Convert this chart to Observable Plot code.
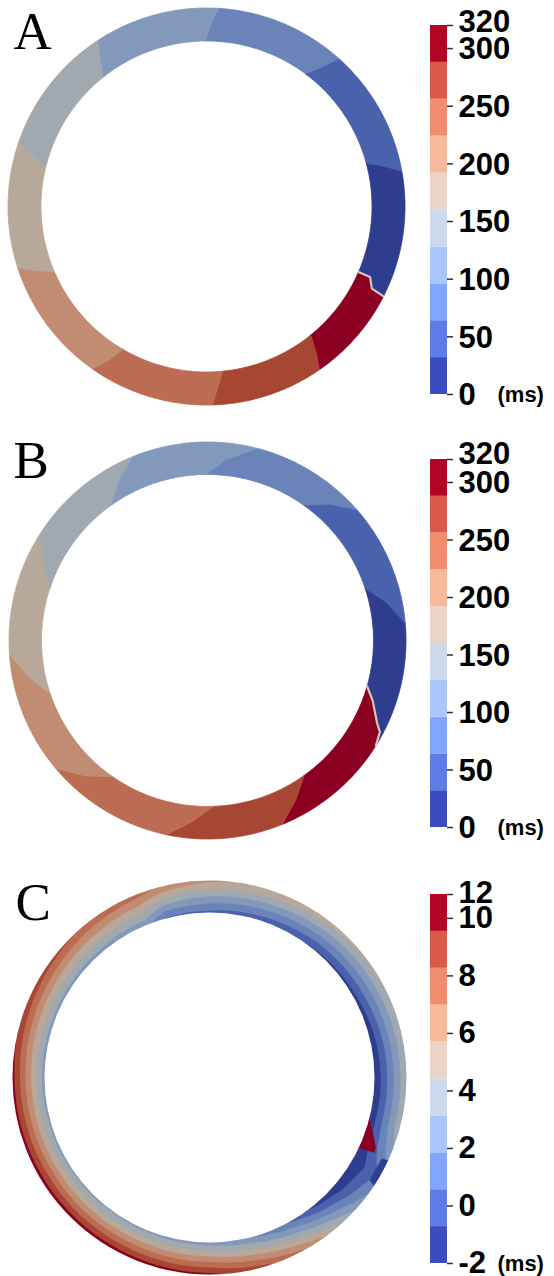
<!DOCTYPE html>
<html><head><meta charset="utf-8">
<script src="https://cdn.jsdelivr.net/npm/d3@7"></script>
<script src="https://cdn.jsdelivr.net/npm/@observablehq/plot@0.6"></script>
<style>
html,body{margin:0;padding:0;background:#fff;overflow:hidden;}
#root{position:relative;width:554px;height:1276px;}
.panel{position:absolute;left:0;width:554px;}
.panel svg{position:absolute;}
</style></head><body><div id="root"></div>
<script>
// ---------------- data ----------------
const panelLabels = ["A", "B", "C"];
const unitLabel = "(ms)";

// activation-time colour bar (panels A, B), ms
const msBandEdges = [0, 32, 64, 96, 128, 160, 192, 224, 256, 288, 320];
const msTicks = [0, 50, 100, 150, 200, 250, 300];
const msTopLabel = "320";

// panel C colour bar, ms
const cBandEdges = [-2, -0.717, 0.566, 1.849, 3.132, 4.415, 5.698, 6.981, 8.264, 9.547, 10.83];
const cTicks = [-2, 0, 2, 4, 6, 8, 10];
const cTopLabel = "12";

// panels A, B: region boundaries, [angle clockwise from top (deg), fraction across wall inner->outer]
const boundsA = [
  [[-0.3, 0], [1.3, 0.5], [3.5, 1]],
  [[37, 0], [40, 0.5], [42, 1]],
  [[75, 0], [77.5, 0.5], [80, 1]],
  [[113.3, 0], [113.3, 0.38], [116.4, 0.58], [116.9, 1]],
  [[141, 0], [143, 0.5], [145.3, 1]],
  [[174.4, 0], [176.5, 0.5], [178.3, 1]],
  [[210.3, 0], [212.5, 0.5], [215, 1]],
  [[246.7, 0], [249.5, 0.5], [252, 1]],
  [[284, 0], [286.5, 0.5], [289, 1]],
  [[321.6, 0], [324.5, 0.5], [327, 1]]
];
const boundsB = [
  [[-0.7, 0], [6, 0.5], [14.5, 1]],
  [[35.6, 0], [42, 0.5], [49, 1]],
  [[72, 0], [78, 0.5], [85.2, 1]],
  [[106, 0], [110, 0.3], [116, 0.7], [118, 0.9], [119.5, 0.93], [122, 1]],
  [[144.4, 0], [151, 0.5], [157.8, 1]],
  [[177.9, 0], [185, 0.5], [192, 1]],
  [[215, 0], [222, 0.5], [230, 1]],
  [[251.2, 0], [258.5, 0.5], [266, 1]],
  [[288.8, 0], [295.5, 0.5], [302.6, 1]],
  [[324.8, 0], [331, 0.5], [338, 1]]
];
// activation time (ms) of the region following each boundary (clockwise)
const timesA = [80, 48, 16, 304, 272, 240, 208, 176, 144, 112];
const timesB = [80, 48, 16, 304, 272, 240, 208, 176, 144, 112];

// panel C: values (ms) at the inner and outer wall vs angle
const cAngles = [0, 20, 40, 60, 80, 95, 105, 112, 120, 130, 140, 150, 165, 180, 210, 240, 270, 300, 320, 338, 345, 352, 360];
const cInner  = [0.2, -0.3, -0.9, -1.2, -1.8, -1.95, -1.95, -1.95, -1.95, -1.95, -1.2, 0.3, 1.8, 2.5, 2.8, 2.8, 2.6, 2.6, 2.5, 2.3, 0.4, 0.3, 0.2];
const cOuter  = [6.0, 5.6, 5.0, 4.6, 4.4, 4.3, 4.2, 3.0, 0.8, 2.5, 5.0, 7.0, 8.8, 9.9, 10.2, 10.2, 10.0, 9.0, 8.2, 7.6, 7.0, 6.5, 6.0];
// panel C local patches: [angle, wall fraction], value (ms)
const cPatches = [
  {value: 10.2, pts: [[104.5, -0.1], [104.5, 0], [110, 0.3], [113, 0.48], [114.5, 0.5], [115.2, 0], [115.2, -0.1]]},
  {value: -1.5, pts: [[115.2, 0.8], [114.8, 1.1], [123.8, 1.1], [122.6, 0.8]]}
];

// ---------------- styles ----------------
const legendColors = ["#3b4cc0","#5d7ce6","#82a6fb","#aac7fd","#cdd9ec","#ead4c8","#f7b89c","#f18d6f","#da5a49","#b40426"];
const ringColors = ["#2f3d8e","#4a62ac","#6a84ba","#8299bb","#a0a8b0","#b8a89a","#c28c72","#bc6c52","#a84634","#8b0020"];
const sans = "'Liberation Sans', Arial, Helvetica, sans-serif";
const serif = "'Liberation Serif', 'Times New Roman', serif";

// ring svg starts "shift" px above the panel top so that the letter is not clipped
const panels = [
  {top: 0, h: 434, shift: 0, cx: 206, cy: 206, rIn: 165.5, rOut: 198.5, labelX: 13, labelBase: 48, barTop: 25, barBottom: 394, topDy: -3.5},
  {top: 434, h: 434, shift: 14, cx: 207, cy: 206, rIn: 166, rOut: 198.5, labelX: 13, labelBase: 43, barTop: 25, barBottom: 393, topDy: -5},
  {top: 868, h: 408, shift: 14, cx: 209, cy: 209, rIn: 165, rOut: 197, labelX: 15, labelBase: 51, barTop: 26, barBottom: 395, topDy: -1}
];

// ---------------- helpers ----------------
function polar(theta, rho, p) {
  const r = p.rIn + rho * (p.rOut - p.rIn);
  const t = theta * Math.PI / 180;
  return [r * Math.sin(t), r * Math.cos(t)];
}
function ringRegions(bounds, times, p) {
  const rows = [];
  const n = bounds.length;
  for (let i = 0; i < n; i++) {
    const L = bounds[i];
    const shift = i === n - 1 ? 360 : 0;
    const R = bounds[(i + 1) % n].map(([t, q]) => [t + shift, q]);
    const pts = L.slice();
    const lo = L[L.length - 1][0], ro = R[R.length - 1][0];
    for (let t = Math.floor(lo) + 1; t < ro; t++) pts.push([t, 1]);
    R.slice().reverse().forEach(d => pts.push(d));
    const li = L[0][0], ri = R[0][0];
    for (let t = Math.ceil(ri) - 1; t > li; t--) pts.push([t, 0]);
    pts.forEach(([t, q]) => { const [x, y] = polar(t, q, p); rows.push({seg: i, value: times[i], x, y}); });
  }
  return rows;
}
function lineRows(pts, p) {
  return pts.map(([t, q]) => { const [x, y] = polar(t, q, p); return {x, y}; });
}
function cField(p) {
  return (x, y) => {
    const r = Math.hypot(x, y);
    let rho = (r - p.rIn) / (p.rOut - p.rIn);
    rho = Math.max(0, Math.min(1, rho));
    let t = Math.atan2(x, y) * 180 / Math.PI;
    if (t < 0) t += 360;
    let i = 0;
    while (i < cAngles.length - 2 && t > cAngles[i + 1]) i++;
    const f = (t - cAngles[i]) / (cAngles[i + 1] - cAngles[i]);
    const vi = cInner[i] + f * (cInner[i + 1] - cInner[i]);
    const vo = cOuter[i] + f * (cOuter[i + 1] - cOuter[i]);
    return vi + rho * (vo - vi);
  };
}

function ringPlot(p, label, bodyMarks, edges) {
  const W = 420, H = p.h + p.shift, cy = p.cy + p.shift;
  const labelMark = Plot.text([label], {
    x: -p.cx + p.labelX, y: cy - (p.labelBase + p.shift), text: d => d,
    textAnchor: "start", lineAnchor: "bottom", fontSize: 53, fontFamily: serif, fill: "black"
  });
  const svg = Plot.plot({
    width: W, height: H, margin: 0,
    x: {domain: [-p.cx, W - p.cx], range: [0, W], axis: null},
    y: {domain: [cy, cy - H], range: [0, H], axis: null},
    color: {type: "threshold", domain: edges.slice(1, -1), range: ringColors},
    style: {background: "white", overflow: "hidden"},
    marks: [...bodyMarks, labelMark]
  });
  svg.style.top = (-p.shift) + "px";
  return svg;
}

function legendPlot(p, edges, ticks, topLabel) {
  const W = 134, H = p.h;
  const bands = edges.slice(0, -1).map((e, i) => ({y1: e, y2: edges[i + 1], mid: (e + edges[i + 1]) / 2}));
  const tickRows = ticks.map(v => ({v, label: String(v)}));
  const topRow = [{v: edges[edges.length - 1], label: topLabel}];
  const textOpts = {y: "v", x: 38, text: "label", textAnchor: "start", fontSize: 31, fontWeight: "bold", fontFamily: sans, fill: "black"};
  const svg = Plot.plot({
    width: W, height: H, margin: 0,
    x: {domain: [0, W], range: [0, W], axis: null},
    y: {domain: [edges[0], edges[edges.length - 1]], range: [p.barBottom, p.barTop], axis: null},
    color: {type: "threshold", domain: edges.slice(1, -1), range: legendColors},
    style: {background: "transparent", overflow: "visible"},
    marks: [
      Plot.rect(bands, {x1: 10, x2: 27, y1: "y1", y2: "y2", fill: "mid"}),
      Plot.ruleY(tickRows.concat(topRow), {y: "v", x1: 27, x2: 33, stroke: "#333", strokeWidth: 1.5}),
      Plot.text(tickRows, {...textOpts, dy: (p.topDy < -2 ? 1 : 0)}),
      Plot.text(topRow, {...textOpts, dy: p.topDy}),
      Plot.text([unitLabel], {y: edges[0], x: 77, text: d => d, textAnchor: "start", fontSize: 22, fontWeight: "bold", fontFamily: sans, fill: "black"})
    ]
  });
  svg.style.top = "0px";
  return svg;
}

// ---------------- build ----------------
const root = document.getElementById("root");
function addPanel(p, ring, legend) {
  const div = document.createElement("div");
  div.className = "panel";
  div.style.top = p.top + "px";
  div.style.height = p.h + "px";
  ring.style.left = "0px";
  legend.style.left = "420px";
  div.appendChild(ring);
  div.appendChild(legend);
  root.appendChild(div);
}

// Panels A and B
[[boundsA, timesA], [boundsB, timesB]].forEach(([bounds, times], k) => {
  const p = panels[k];
  const rows = ringRegions(bounds, times, p);
  const front = lineRows(bounds[3], p);
  const marks = [
    Plot.line(rows, {x: "x", y: "y", z: "seg", fill: "value", stroke: "value", strokeWidth: 0.8, curve: "linear-closed"}),
    Plot.line(front, {x: "x", y: "y", stroke: "#d6c4bc", strokeWidth: 2.2})
  ];
  addPanel(p, ringPlot(p, panelLabels[k], marks, msBandEdges), legendPlot(p, msBandEdges, msTicks, msTopLabel));
});

// Panel C
{
  const p = panels[2];
  const ext = p.rOut + 4;
  const patchRows = [];
  cPatches.forEach((c, i) => lineRows(c.pts, p).forEach(d => patchRows.push({...d, seg: i, value: c.value})));
  const marks = [
    Plot.contour({x1: -ext, x2: ext, y1: -ext, y2: ext, fill: cField(p), thresholds: cBandEdges.slice(0, -1), stroke: "none"}),
    Plot.line(patchRows, {x: "x", y: "y", z: "seg", fill: "value", stroke: "value", strokeWidth: 0.5, curve: "linear-closed"}),
    Plot.dot([[0, 0]], {x: d => d[0], y: d => d[1], r: p.rIn, fill: "white", stroke: "none"}),
    Plot.dot([[0, 0]], {x: d => d[0], y: d => d[1], r: p.rOut + 60, fill: "none", stroke: "white", strokeWidth: 120})
  ];
  addPanel(p, ringPlot(p, panelLabels[2], marks, cBandEdges), legendPlot(p, cBandEdges, cTicks, cTopLabel));
}
</script></body></html>
